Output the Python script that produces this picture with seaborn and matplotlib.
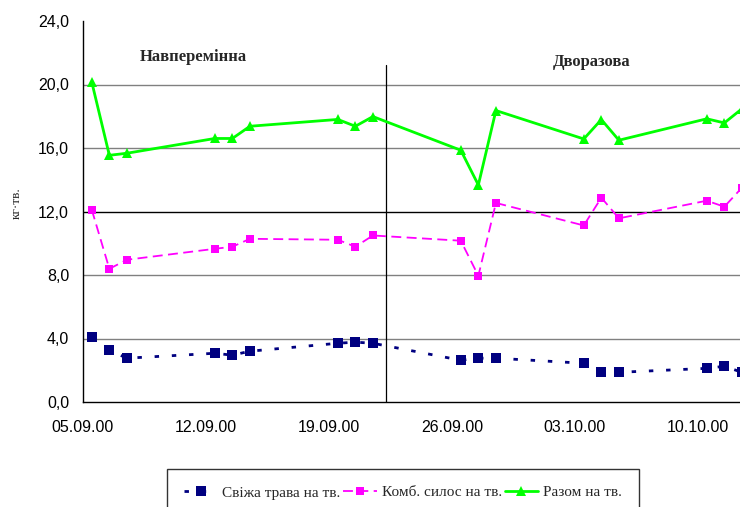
import matplotlib
matplotlib.use("Agg")
import matplotlib.pyplot as plt
import matplotlib.dates as mdates
from matplotlib.ticker import FuncFormatter
import numpy as np
import pandas as pd
import seaborn as sns

# Observation dates (three consecutive days per week)
dates = ["2000-09-05", "2000-09-06", "2000-09-07",
         "2000-09-12", "2000-09-13", "2000-09-14",
         "2000-09-19", "2000-09-20", "2000-09-21",
         "2000-09-26", "2000-09-27", "2000-09-28",
         "2000-10-03", "2000-10-04", "2000-10-05",
         "2000-10-10", "2000-10-11", "2000-10-12"]

# kg per head, by feed
fresh_grass = [4.08, 3.26, 2.76, 3.07, 2.95, 3.20, 3.70, 3.77, 3.70,
               2.63, 2.76, 2.76, 2.44, 1.87, 1.87, 2.12, 2.25, 1.87]
silage = [12.11, 8.39, 8.96, 9.65, 9.78, 10.28, 10.22, 9.78, 10.49,
          10.16, 7.95, 12.54, 11.12, 12.87, 11.57, 12.68, 12.30, 13.50]
total = [20.15, 15.54, 15.67, 16.60, 16.60, 17.37, 17.80, 17.37, 17.98,
         15.86, 13.67, 18.36, 16.57, 17.79, 16.49, 17.84, 17.58, 18.47]

series_names = ["Свіжа трава на тв.", "Комб. силос на тв.", "Разом на тв."]
period_labels = ["Навперемінна", "Дворазова"]
tick_dates = ["2000-09-05", "2000-09-12", "2000-09-19",
              "2000-09-26", "2000-10-03", "2000-10-10"]
y_ticks = [0, 4, 8, 12, 16, 20, 24]
boundary = "2000-09-22 06:00"

sns.set_theme(style="white")
plt.rcParams["font.family"] = ["Liberation Sans", "DejaVu Sans"]

# Points sit in the middle of each day on the date axis
x = pd.to_datetime(dates) + pd.Timedelta(hours=12)
df = pd.DataFrame({"date": x, "grass": fresh_grass, "silage": silage, "total": total})

fig = plt.figure(figsize=(7.40, 5.07), dpi=100)
ax = fig.add_axes([83 / 740, 105 / 507, 667.7 / 740, 381 / 507])

for yv in [4, 8, 16, 20]:
    ax.axhline(yv, color="#808080", lw=1.0, zorder=1)
ax.axhline(12, color="black", lw=1.0, zorder=1)

sns.lineplot(data=df, x="date", y="grass", ax=ax, color="#000080",
             lw=2.0, linestyle=(0, (1.6, 4.6)), marker="s", markersize=7,
             markeredgewidth=0, label=series_names[0], zorder=3)
sns.lineplot(data=df, x="date", y="silage", ax=ax, color="#FF00FF",
             lw=1.3, linestyle=(0, (5.5, 3.0)), marker="s", markersize=6,
             markeredgewidth=0, label=series_names[1], zorder=3)
sns.lineplot(data=df, x="date", y="total", ax=ax, color="#00FF00",
             lw=2.0, linestyle="-", marker="^", markersize=7.5,
             markeredgewidth=0, label=series_names[2], zorder=3)

xb = mdates.date2num(pd.Timestamp(boundary))
ax.plot([xb, xb], [0, 21.2], color="black", lw=0.9, zorder=2)

ax.set_xlim(pd.Timestamp("2000-09-05"), pd.Timestamp("2000-10-13"))
ax.set_ylim(0, 24)
ax.set_xticks(pd.to_datetime(tick_dates))
ax.xaxis.set_major_formatter(mdates.DateFormatter("%d.%m.%y"))
ax.set_yticks(y_ticks)
ax.yaxis.set_major_formatter(FuncFormatter(lambda v, p: f"{v:.1f}".replace(".", ",")))
ax.tick_params(axis="both", which="major", direction="out", length=5, width=1,
               color="black", labelsize=11.5, labelcolor="black")
ax.tick_params(axis="x", pad=8)
ax.tick_params(axis="y", pad=5)
ax.set_xlabel("")
ax.set_ylabel("")
for side in ["top", "right"]:
    ax.spines[side].set_visible(False)
for side in ["left", "bottom"]:
    ax.spines[side].set_color("black")
    ax.spines[side].set_linewidth(1.0)

fig.text(193 / 740, 1 - 57 / 507, period_labels[0], ha="center", va="center",
         family=["Liberation Serif"], fontweight="bold", fontsize=12)
fig.text(592 / 740, 1 - 62 / 507, period_labels[1], ha="center", va="center",
         family=["Liberation Serif"], fontweight="bold", fontsize=12)
fig.text(17 / 740, 1 - 203 / 507, "кг·тв.", rotation=90, ha="center", va="center",
         family=["Liberation Serif"], fontsize=9.5)

ax.get_legend().remove()
handles, labels = ax.get_legend_handles_labels()
leg = fig.legend(handles, labels, loc="upper left",
                 bbox_to_anchor=(167 / 740, 1 - 469 / 507), ncol=3,
                 frameon=True, fancybox=False, borderpad=1.1, borderaxespad=0,
                 handlelength=2.2, handletextpad=0.3, columnspacing=0.2,
                 prop={"family": "Liberation Serif", "size": 11})
leg.get_frame().set_edgecolor("black")
leg.get_frame().set_linewidth(1.0)

fig.savefig("out.png", dpi=100)
